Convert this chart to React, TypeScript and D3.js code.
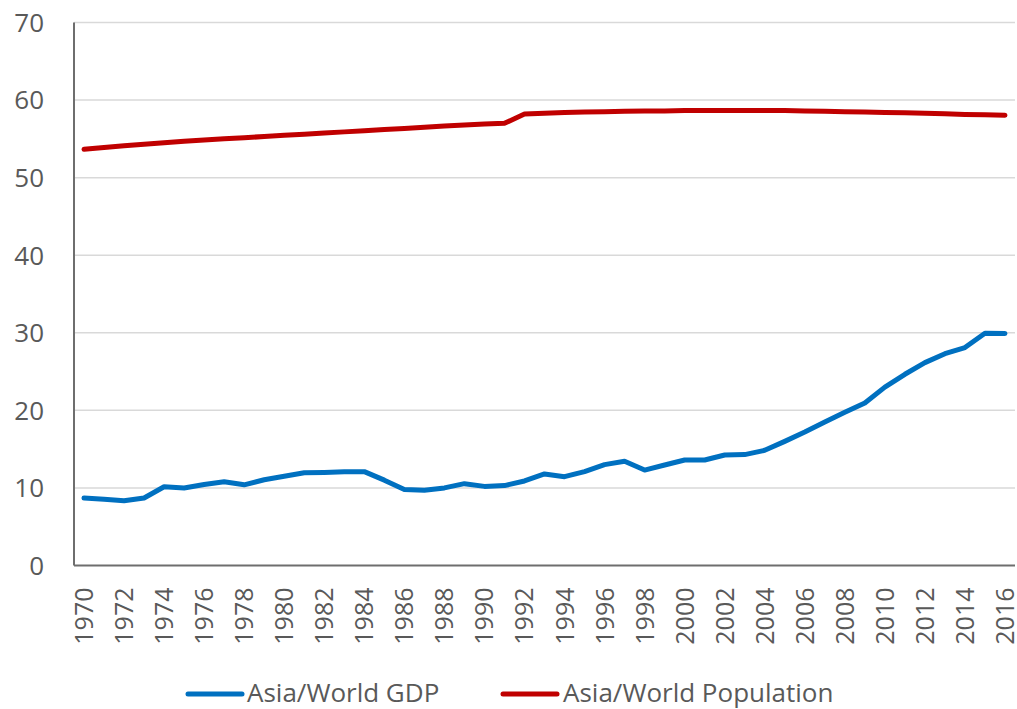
import React from 'react';
import * as d3 from 'd3';

const years = d3.range(1970, 2017);

const gdpShare = [
  8.7, 8.55, 8.35, 8.7, 10.15, 10.0, 10.45, 10.8, 10.4, 11.05,
  11.5, 11.95, 12.0, 12.1, 12.1, 11.0, 9.8, 9.7, 10.0, 10.55,
  10.2, 10.3, 10.9, 11.8, 11.45, 12.1, 13.0, 13.45, 12.3, 12.95,
  13.6, 13.6, 14.25, 14.3, 14.85, 16.0, 17.2, 18.5, 19.75, 20.95,
  23.0, 24.65, 26.15, 27.3, 28.1, 29.95, 29.9,
];

const popShare = [
  53.65, 53.9, 54.1, 54.3, 54.5, 54.7, 54.85, 55.0, 55.15, 55.3,
  55.45, 55.6, 55.75, 55.9, 56.05, 56.2, 56.35, 56.5, 56.65, 56.8,
  56.9, 57.0, 58.2, 58.3, 58.4, 58.45, 58.5, 58.55, 58.6, 58.6,
  58.65, 58.65, 58.65, 58.65, 58.65, 58.65, 58.6, 58.55, 58.5, 58.45,
  58.4, 58.35, 58.3, 58.25, 58.15, 58.1, 58.05,
];

const yTicks = [0, 10, 20, 30, 40, 50, 60, 70];
const seriesNames = ['Asia/World GDP', 'Asia/World Population'];
const seriesColors = ['#0070C0', '#C00000'];

const W = 1017;
const H = 709;
const plot = { left: 74, right: 1015, top: 22.5, bottom: 565.5 };
const textColor = '#595959';
const font = '"Open Sans", sans-serif';

const App: React.FC = () => {
  const x = d3
    .scaleBand<number>()
    .domain(years)
    .range([plot.left, plot.right]);
  const cx = (yr: number) => (x(yr) || 0) + x.bandwidth() / 2;

  const y = d3.scaleLinear().domain([0, 70]).range([plot.bottom, plot.top]);

  const line = d3
    .line<number>()
    .x((_, i) => cx(years[i]))
    .y((d) => y(d));

  const series = [gdpShare, popShare];

  // legend swatch + label positions
  const legendItems = [
    { lineX: 188, textX: 247 },
    { lineX: 503, textX: 563 },
  ];

  return (
    <svg
      width={W}
      height={H}
      style={{ position: 'absolute', left: 0, top: 0, background: '#fff' }}
    >
      {yTicks
        .filter((t) => t > 0)
        .map((t) => (
          <line
            key={t}
            x1={plot.left}
            x2={plot.right}
            y1={y(t)}
            y2={y(t)}
            stroke="#d9d9d9"
            strokeWidth={1.5}
          />
        ))}

      {yTicks.map((t) => (
        <text
          key={t}
          x={44}
          y={y(t)}
          dy="0.36em"
          textAnchor="end"
          fontFamily={font}
          fontSize={26}
          fill={textColor}
        >
          {t}
        </text>
      ))}

      <line
        x1={plot.left}
        x2={plot.left}
        y1={plot.top}
        y2={plot.bottom}
        stroke="#6e6e6e"
        strokeWidth={2}
      />
      <line
        x1={plot.left}
        x2={plot.right}
        y1={plot.bottom}
        y2={plot.bottom}
        stroke="#6e6e6e"
        strokeWidth={2}
      />

      {years
        .filter((yr) => (yr - 1970) % 2 === 0)
        .map((yr) => (
          <text
            key={yr}
            transform={`translate(${cx(yr)},${plot.bottom + 22}) rotate(-90)`}
            dy="0.36em"
            textAnchor="end"
            fontFamily={font}
            fontSize={25}
            fill={textColor}
          >
            {yr}
          </text>
        ))}

      {series.map((s, i) => (
        <path
          key={seriesNames[i]}
          d={line(s) || ''}
          fill="none"
          stroke={seriesColors[i]}
          strokeWidth={5}
          strokeLinecap="round"
          strokeLinejoin="round"
        />
      ))}

      {legendItems.map((it, i) => (
        <g key={seriesNames[i]}>
          <line
            x1={it.lineX}
            x2={it.lineX + 54}
            y1={694}
            y2={694}
            stroke={seriesColors[i]}
            strokeWidth={5}
            strokeLinecap="round"
          />
          <text
            x={it.textX}
            y={702}
            fontFamily={font}
            fontSize={26}
            fill={textColor}
          >
            {seriesNames[i]}
          </text>
        </g>
      ))}
    </svg>
  );
};

export default App;
